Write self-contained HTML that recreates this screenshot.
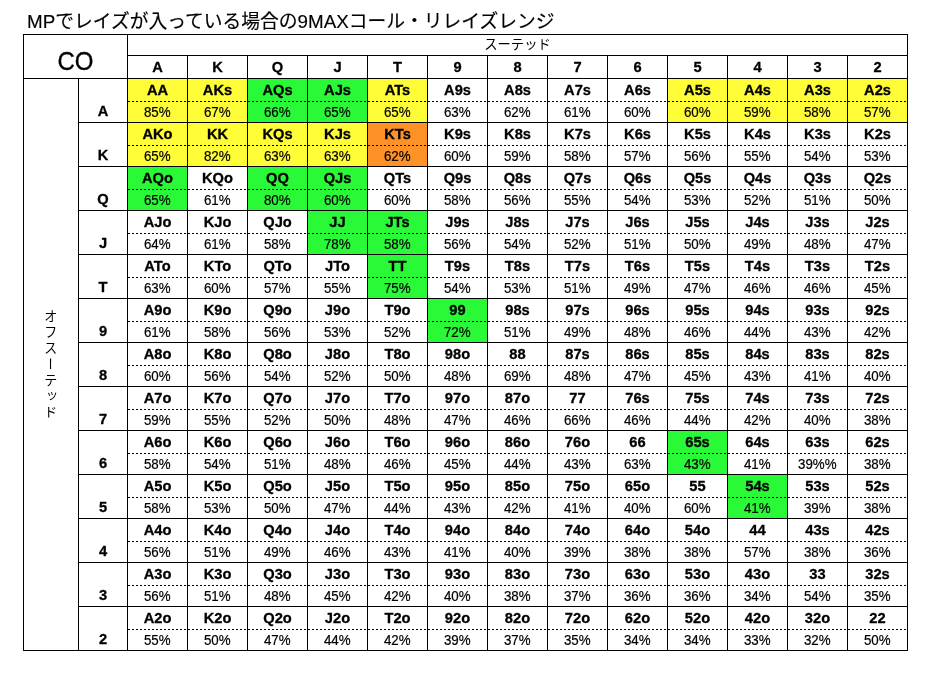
<!DOCTYPE html>
<html lang="ja"><head><meta charset="utf-8"><title>CO range</title>
<style>
html,body{margin:0;padding:0;background:#fff;}
body{width:932px;height:674px;position:relative;overflow:hidden;font-family:"Liberation Sans","Noto Sans CJK JP",sans-serif;color:#000;}
div{position:absolute;box-sizing:border-box;}
.t{left:27px;top:10px;font-size:18.78px;line-height:24px;white-space:nowrap;-webkit-text-stroke:0.15px #000;}
.v{background:#000;width:1px;}
.h{background:#000;height:1px;}
.d{height:1px;left:128px;width:779px;background:repeating-linear-gradient(90deg,#000 0,#000 2px,transparent 2px,transparent 4px);background-position:0px 0;}
.y{background:#fffc38;}.g{background:#29f937;}.o{background:#ff9226;}
.c{width:59px;text-align:center;font-size:13.333px;white-space:nowrap;}
.b{font-weight:bold;height:22px;line-height:22px;font-size:14.667px;-webkit-text-stroke:0.3px #000;}
.p{height:20px;line-height:20px;-webkit-text-stroke:0.2px #000;transform:translateX(-0.2px) scaleY(1.08);transform-origin:50% 15px;}
.f{width:59px;height:43px;}
.l{left:79px;width:48px;text-align:center;font-weight:bold;font-size:14.667px;height:20px;line-height:20px;-webkit-text-stroke:0.3px #000;}
.k{font-weight:bold;height:22px;line-height:22px;top:56px;font-size:14.667px;-webkit-text-stroke:0.3px #000;}
</style></head><body>
<div class="t">MPでレイズが入っている場合の9MAXコール・リレイズレンジ</div>
<div class="f y" style="left:128px;top:79px"></div><div class="f y" style="left:188px;top:79px"></div><div class="f g" style="left:248px;top:79px"></div><div class="f g" style="left:308px;top:79px"></div><div class="f y" style="left:368px;top:79px"></div><div class="f y" style="left:668px;top:79px"></div><div class="f y" style="left:728px;top:79px"></div><div class="f y" style="left:788px;top:79px"></div><div class="f y" style="left:848px;top:79px"></div><div class="f y" style="left:128px;top:123px"></div><div class="f y" style="left:188px;top:123px"></div><div class="f y" style="left:248px;top:123px"></div><div class="f y" style="left:308px;top:123px"></div><div class="f o" style="left:368px;top:123px"></div><div class="f g" style="left:128px;top:167px"></div><div class="f g" style="left:248px;top:167px"></div><div class="f g" style="left:308px;top:167px"></div><div class="f g" style="left:308px;top:211px"></div><div class="f g" style="left:368px;top:211px"></div><div class="f g" style="left:368px;top:255px"></div><div class="f g" style="left:428px;top:299px"></div><div class="f g" style="left:668px;top:431px"></div><div class="f g" style="left:728px;top:475px"></div>
<div class="v" style="left:23px;top:34px;height:617px"></div><div class="v" style="left:78px;top:78px;height:573px"></div><div class="v" style="left:127px;top:34px;height:617px"></div><div class="v" style="left:187px;top:55px;height:596px"></div><div class="v" style="left:247px;top:55px;height:596px"></div><div class="v" style="left:307px;top:55px;height:596px"></div><div class="v" style="left:367px;top:55px;height:596px"></div><div class="v" style="left:427px;top:55px;height:596px"></div><div class="v" style="left:487px;top:55px;height:596px"></div><div class="v" style="left:547px;top:55px;height:596px"></div><div class="v" style="left:607px;top:55px;height:596px"></div><div class="v" style="left:667px;top:55px;height:596px"></div><div class="v" style="left:727px;top:55px;height:596px"></div><div class="v" style="left:787px;top:55px;height:596px"></div><div class="v" style="left:847px;top:55px;height:596px"></div><div class="v" style="left:907px;top:34px;height:617px"></div>
<div class="h" style="left:23px;top:34px;width:885px"></div><div class="h" style="left:127px;top:55px;width:781px"></div><div class="h" style="left:23px;top:78px;width:885px"></div><div class="h" style="left:78px;top:122px;width:830px"></div><div class="h" style="left:78px;top:166px;width:830px"></div><div class="h" style="left:78px;top:210px;width:830px"></div><div class="h" style="left:78px;top:254px;width:830px"></div><div class="h" style="left:78px;top:298px;width:830px"></div><div class="h" style="left:78px;top:342px;width:830px"></div><div class="h" style="left:78px;top:386px;width:830px"></div><div class="h" style="left:78px;top:430px;width:830px"></div><div class="h" style="left:78px;top:474px;width:830px"></div><div class="h" style="left:78px;top:518px;width:830px"></div><div class="h" style="left:78px;top:562px;width:830px"></div><div class="h" style="left:78px;top:606px;width:830px"></div><div class="h" style="left:23px;top:650px;width:885px"></div>
<div class="d" style="top:101px"></div><div class="d" style="top:145px"></div><div class="d" style="top:189px"></div><div class="d" style="top:233px"></div><div class="d" style="top:277px"></div><div class="d" style="top:321px"></div><div class="d" style="top:365px"></div><div class="d" style="top:409px"></div><div class="d" style="top:453px"></div><div class="d" style="top:497px"></div><div class="d" style="top:541px"></div><div class="d" style="top:585px"></div><div class="d" style="top:629px"></div>
<div style="left:24px;top:40px;width:103px;height:43px;line-height:43px;text-align:center;font-size:24px;-webkit-text-stroke:0.3px #000;transform:scaleY(1.04)">CO</div><div style="left:128px;top:35px;width:779px;height:20px;line-height:20px;text-align:center;font-size:13.333px">スーテッド</div><div class="c k" style="left:128px">A</div><div class="c k" style="left:188px">K</div><div class="c k" style="left:248px">Q</div><div class="c k" style="left:308px">J</div><div class="c k" style="left:368px">T</div><div class="c k" style="left:428px">9</div><div class="c k" style="left:488px">8</div><div class="c k" style="left:548px">7</div><div class="c k" style="left:608px">6</div><div class="c k" style="left:668px">5</div><div class="c k" style="left:728px">4</div><div class="c k" style="left:788px">3</div><div class="c k" style="left:848px">2</div>
<div style="left:22.5px;top:79px;width:54px;height:571px;display:flex;align-items:center;justify-content:center;font-size:13.333px"><span style="writing-mode:vertical-rl;letter-spacing:2.667px;line-height:1;white-space:nowrap">オフスーテッド</span></div>
<div class="l" style="top:101px">A</div><div class="l" style="top:145px">K</div><div class="l" style="top:189px">Q</div><div class="l" style="top:233px">J</div><div class="l" style="top:277px">T</div><div class="l" style="top:321px">9</div><div class="l" style="top:365px">8</div><div class="l" style="top:409px">7</div><div class="l" style="top:453px">6</div><div class="l" style="top:497px">5</div><div class="l" style="top:541px">4</div><div class="l" style="top:585px">3</div><div class="l" style="top:629px">2</div>
<div class="c b" style="left:128px;top:79px">AA</div><div class="c p" style="left:128px;top:103px">85%</div><div class="c b" style="left:188px;top:79px">AKs</div><div class="c p" style="left:188px;top:103px">67%</div><div class="c b" style="left:248px;top:79px">AQs</div><div class="c p" style="left:248px;top:103px">66%</div><div class="c b" style="left:308px;top:79px">AJs</div><div class="c p" style="left:308px;top:103px">65%</div><div class="c b" style="left:368px;top:79px">ATs</div><div class="c p" style="left:368px;top:103px">65%</div><div class="c b" style="left:428px;top:79px">A9s</div><div class="c p" style="left:428px;top:103px">63%</div><div class="c b" style="left:488px;top:79px">A8s</div><div class="c p" style="left:488px;top:103px">62%</div><div class="c b" style="left:548px;top:79px">A7s</div><div class="c p" style="left:548px;top:103px">61%</div><div class="c b" style="left:608px;top:79px">A6s</div><div class="c p" style="left:608px;top:103px">60%</div><div class="c b" style="left:668px;top:79px">A5s</div><div class="c p" style="left:668px;top:103px">60%</div><div class="c b" style="left:728px;top:79px">A4s</div><div class="c p" style="left:728px;top:103px">59%</div><div class="c b" style="left:788px;top:79px">A3s</div><div class="c p" style="left:788px;top:103px">58%</div><div class="c b" style="left:848px;top:79px">A2s</div><div class="c p" style="left:848px;top:103px">57%</div>
<div class="c b" style="left:128px;top:123px">AKo</div><div class="c p" style="left:128px;top:147px">65%</div><div class="c b" style="left:188px;top:123px">KK</div><div class="c p" style="left:188px;top:147px">82%</div><div class="c b" style="left:248px;top:123px">KQs</div><div class="c p" style="left:248px;top:147px">63%</div><div class="c b" style="left:308px;top:123px">KJs</div><div class="c p" style="left:308px;top:147px">63%</div><div class="c b" style="left:368px;top:123px">KTs</div><div class="c p" style="left:368px;top:147px">62%</div><div class="c b" style="left:428px;top:123px">K9s</div><div class="c p" style="left:428px;top:147px">60%</div><div class="c b" style="left:488px;top:123px">K8s</div><div class="c p" style="left:488px;top:147px">59%</div><div class="c b" style="left:548px;top:123px">K7s</div><div class="c p" style="left:548px;top:147px">58%</div><div class="c b" style="left:608px;top:123px">K6s</div><div class="c p" style="left:608px;top:147px">57%</div><div class="c b" style="left:668px;top:123px">K5s</div><div class="c p" style="left:668px;top:147px">56%</div><div class="c b" style="left:728px;top:123px">K4s</div><div class="c p" style="left:728px;top:147px">55%</div><div class="c b" style="left:788px;top:123px">K3s</div><div class="c p" style="left:788px;top:147px">54%</div><div class="c b" style="left:848px;top:123px">K2s</div><div class="c p" style="left:848px;top:147px">53%</div>
<div class="c b" style="left:128px;top:167px">AQo</div><div class="c p" style="left:128px;top:191px">65%</div><div class="c b" style="left:188px;top:167px">KQo</div><div class="c p" style="left:188px;top:191px">61%</div><div class="c b" style="left:248px;top:167px">QQ</div><div class="c p" style="left:248px;top:191px">80%</div><div class="c b" style="left:308px;top:167px">QJs</div><div class="c p" style="left:308px;top:191px">60%</div><div class="c b" style="left:368px;top:167px">QTs</div><div class="c p" style="left:368px;top:191px">60%</div><div class="c b" style="left:428px;top:167px">Q9s</div><div class="c p" style="left:428px;top:191px">58%</div><div class="c b" style="left:488px;top:167px">Q8s</div><div class="c p" style="left:488px;top:191px">56%</div><div class="c b" style="left:548px;top:167px">Q7s</div><div class="c p" style="left:548px;top:191px">55%</div><div class="c b" style="left:608px;top:167px">Q6s</div><div class="c p" style="left:608px;top:191px">54%</div><div class="c b" style="left:668px;top:167px">Q5s</div><div class="c p" style="left:668px;top:191px">53%</div><div class="c b" style="left:728px;top:167px">Q4s</div><div class="c p" style="left:728px;top:191px">52%</div><div class="c b" style="left:788px;top:167px">Q3s</div><div class="c p" style="left:788px;top:191px">51%</div><div class="c b" style="left:848px;top:167px">Q2s</div><div class="c p" style="left:848px;top:191px">50%</div>
<div class="c b" style="left:128px;top:211px">AJo</div><div class="c p" style="left:128px;top:235px">64%</div><div class="c b" style="left:188px;top:211px">KJo</div><div class="c p" style="left:188px;top:235px">61%</div><div class="c b" style="left:248px;top:211px">QJo</div><div class="c p" style="left:248px;top:235px">58%</div><div class="c b" style="left:308px;top:211px">JJ</div><div class="c p" style="left:308px;top:235px">78%</div><div class="c b" style="left:368px;top:211px">JTs</div><div class="c p" style="left:368px;top:235px">58%</div><div class="c b" style="left:428px;top:211px">J9s</div><div class="c p" style="left:428px;top:235px">56%</div><div class="c b" style="left:488px;top:211px">J8s</div><div class="c p" style="left:488px;top:235px">54%</div><div class="c b" style="left:548px;top:211px">J7s</div><div class="c p" style="left:548px;top:235px">52%</div><div class="c b" style="left:608px;top:211px">J6s</div><div class="c p" style="left:608px;top:235px">51%</div><div class="c b" style="left:668px;top:211px">J5s</div><div class="c p" style="left:668px;top:235px">50%</div><div class="c b" style="left:728px;top:211px">J4s</div><div class="c p" style="left:728px;top:235px">49%</div><div class="c b" style="left:788px;top:211px">J3s</div><div class="c p" style="left:788px;top:235px">48%</div><div class="c b" style="left:848px;top:211px">J2s</div><div class="c p" style="left:848px;top:235px">47%</div>
<div class="c b" style="left:128px;top:255px">ATo</div><div class="c p" style="left:128px;top:279px">63%</div><div class="c b" style="left:188px;top:255px">KTo</div><div class="c p" style="left:188px;top:279px">60%</div><div class="c b" style="left:248px;top:255px">QTo</div><div class="c p" style="left:248px;top:279px">57%</div><div class="c b" style="left:308px;top:255px">JTo</div><div class="c p" style="left:308px;top:279px">55%</div><div class="c b" style="left:368px;top:255px">TT</div><div class="c p" style="left:368px;top:279px">75%</div><div class="c b" style="left:428px;top:255px">T9s</div><div class="c p" style="left:428px;top:279px">54%</div><div class="c b" style="left:488px;top:255px">T8s</div><div class="c p" style="left:488px;top:279px">53%</div><div class="c b" style="left:548px;top:255px">T7s</div><div class="c p" style="left:548px;top:279px">51%</div><div class="c b" style="left:608px;top:255px">T6s</div><div class="c p" style="left:608px;top:279px">49%</div><div class="c b" style="left:668px;top:255px">T5s</div><div class="c p" style="left:668px;top:279px">47%</div><div class="c b" style="left:728px;top:255px">T4s</div><div class="c p" style="left:728px;top:279px">46%</div><div class="c b" style="left:788px;top:255px">T3s</div><div class="c p" style="left:788px;top:279px">46%</div><div class="c b" style="left:848px;top:255px">T2s</div><div class="c p" style="left:848px;top:279px">45%</div>
<div class="c b" style="left:128px;top:299px">A9o</div><div class="c p" style="left:128px;top:323px">61%</div><div class="c b" style="left:188px;top:299px">K9o</div><div class="c p" style="left:188px;top:323px">58%</div><div class="c b" style="left:248px;top:299px">Q9o</div><div class="c p" style="left:248px;top:323px">56%</div><div class="c b" style="left:308px;top:299px">J9o</div><div class="c p" style="left:308px;top:323px">53%</div><div class="c b" style="left:368px;top:299px">T9o</div><div class="c p" style="left:368px;top:323px">52%</div><div class="c b" style="left:428px;top:299px">99</div><div class="c p" style="left:428px;top:323px">72%</div><div class="c b" style="left:488px;top:299px">98s</div><div class="c p" style="left:488px;top:323px">51%</div><div class="c b" style="left:548px;top:299px">97s</div><div class="c p" style="left:548px;top:323px">49%</div><div class="c b" style="left:608px;top:299px">96s</div><div class="c p" style="left:608px;top:323px">48%</div><div class="c b" style="left:668px;top:299px">95s</div><div class="c p" style="left:668px;top:323px">46%</div><div class="c b" style="left:728px;top:299px">94s</div><div class="c p" style="left:728px;top:323px">44%</div><div class="c b" style="left:788px;top:299px">93s</div><div class="c p" style="left:788px;top:323px">43%</div><div class="c b" style="left:848px;top:299px">92s</div><div class="c p" style="left:848px;top:323px">42%</div>
<div class="c b" style="left:128px;top:343px">A8o</div><div class="c p" style="left:128px;top:367px">60%</div><div class="c b" style="left:188px;top:343px">K8o</div><div class="c p" style="left:188px;top:367px">56%</div><div class="c b" style="left:248px;top:343px">Q8o</div><div class="c p" style="left:248px;top:367px">54%</div><div class="c b" style="left:308px;top:343px">J8o</div><div class="c p" style="left:308px;top:367px">52%</div><div class="c b" style="left:368px;top:343px">T8o</div><div class="c p" style="left:368px;top:367px">50%</div><div class="c b" style="left:428px;top:343px">98o</div><div class="c p" style="left:428px;top:367px">48%</div><div class="c b" style="left:488px;top:343px">88</div><div class="c p" style="left:488px;top:367px">69%</div><div class="c b" style="left:548px;top:343px">87s</div><div class="c p" style="left:548px;top:367px">48%</div><div class="c b" style="left:608px;top:343px">86s</div><div class="c p" style="left:608px;top:367px">47%</div><div class="c b" style="left:668px;top:343px">85s</div><div class="c p" style="left:668px;top:367px">45%</div><div class="c b" style="left:728px;top:343px">84s</div><div class="c p" style="left:728px;top:367px">43%</div><div class="c b" style="left:788px;top:343px">83s</div><div class="c p" style="left:788px;top:367px">41%</div><div class="c b" style="left:848px;top:343px">82s</div><div class="c p" style="left:848px;top:367px">40%</div>
<div class="c b" style="left:128px;top:387px">A7o</div><div class="c p" style="left:128px;top:411px">59%</div><div class="c b" style="left:188px;top:387px">K7o</div><div class="c p" style="left:188px;top:411px">55%</div><div class="c b" style="left:248px;top:387px">Q7o</div><div class="c p" style="left:248px;top:411px">52%</div><div class="c b" style="left:308px;top:387px">J7o</div><div class="c p" style="left:308px;top:411px">50%</div><div class="c b" style="left:368px;top:387px">T7o</div><div class="c p" style="left:368px;top:411px">48%</div><div class="c b" style="left:428px;top:387px">97o</div><div class="c p" style="left:428px;top:411px">47%</div><div class="c b" style="left:488px;top:387px">87o</div><div class="c p" style="left:488px;top:411px">46%</div><div class="c b" style="left:548px;top:387px">77</div><div class="c p" style="left:548px;top:411px">66%</div><div class="c b" style="left:608px;top:387px">76s</div><div class="c p" style="left:608px;top:411px">46%</div><div class="c b" style="left:668px;top:387px">75s</div><div class="c p" style="left:668px;top:411px">44%</div><div class="c b" style="left:728px;top:387px">74s</div><div class="c p" style="left:728px;top:411px">42%</div><div class="c b" style="left:788px;top:387px">73s</div><div class="c p" style="left:788px;top:411px">40%</div><div class="c b" style="left:848px;top:387px">72s</div><div class="c p" style="left:848px;top:411px">38%</div>
<div class="c b" style="left:128px;top:431px">A6o</div><div class="c p" style="left:128px;top:455px">58%</div><div class="c b" style="left:188px;top:431px">K6o</div><div class="c p" style="left:188px;top:455px">54%</div><div class="c b" style="left:248px;top:431px">Q6o</div><div class="c p" style="left:248px;top:455px">51%</div><div class="c b" style="left:308px;top:431px">J6o</div><div class="c p" style="left:308px;top:455px">48%</div><div class="c b" style="left:368px;top:431px">T6o</div><div class="c p" style="left:368px;top:455px">46%</div><div class="c b" style="left:428px;top:431px">96o</div><div class="c p" style="left:428px;top:455px">45%</div><div class="c b" style="left:488px;top:431px">86o</div><div class="c p" style="left:488px;top:455px">44%</div><div class="c b" style="left:548px;top:431px">76o</div><div class="c p" style="left:548px;top:455px">43%</div><div class="c b" style="left:608px;top:431px">66</div><div class="c p" style="left:608px;top:455px">63%</div><div class="c b" style="left:668px;top:431px">65s</div><div class="c p" style="left:668px;top:455px">43%</div><div class="c b" style="left:728px;top:431px">64s</div><div class="c p" style="left:728px;top:455px">41%</div><div class="c b" style="left:788px;top:431px">63s</div><div class="c p" style="left:788px;top:455px">39%%</div><div class="c b" style="left:848px;top:431px">62s</div><div class="c p" style="left:848px;top:455px">38%</div>
<div class="c b" style="left:128px;top:475px">A5o</div><div class="c p" style="left:128px;top:499px">58%</div><div class="c b" style="left:188px;top:475px">K5o</div><div class="c p" style="left:188px;top:499px">53%</div><div class="c b" style="left:248px;top:475px">Q5o</div><div class="c p" style="left:248px;top:499px">50%</div><div class="c b" style="left:308px;top:475px">J5o</div><div class="c p" style="left:308px;top:499px">47%</div><div class="c b" style="left:368px;top:475px">T5o</div><div class="c p" style="left:368px;top:499px">44%</div><div class="c b" style="left:428px;top:475px">95o</div><div class="c p" style="left:428px;top:499px">43%</div><div class="c b" style="left:488px;top:475px">85o</div><div class="c p" style="left:488px;top:499px">42%</div><div class="c b" style="left:548px;top:475px">75o</div><div class="c p" style="left:548px;top:499px">41%</div><div class="c b" style="left:608px;top:475px">65o</div><div class="c p" style="left:608px;top:499px">40%</div><div class="c b" style="left:668px;top:475px">55</div><div class="c p" style="left:668px;top:499px">60%</div><div class="c b" style="left:728px;top:475px">54s</div><div class="c p" style="left:728px;top:499px">41%</div><div class="c b" style="left:788px;top:475px">53s</div><div class="c p" style="left:788px;top:499px">39%</div><div class="c b" style="left:848px;top:475px">52s</div><div class="c p" style="left:848px;top:499px">38%</div>
<div class="c b" style="left:128px;top:519px">A4o</div><div class="c p" style="left:128px;top:543px">56%</div><div class="c b" style="left:188px;top:519px">K4o</div><div class="c p" style="left:188px;top:543px">51%</div><div class="c b" style="left:248px;top:519px">Q4o</div><div class="c p" style="left:248px;top:543px">49%</div><div class="c b" style="left:308px;top:519px">J4o</div><div class="c p" style="left:308px;top:543px">46%</div><div class="c b" style="left:368px;top:519px">T4o</div><div class="c p" style="left:368px;top:543px">43%</div><div class="c b" style="left:428px;top:519px">94o</div><div class="c p" style="left:428px;top:543px">41%</div><div class="c b" style="left:488px;top:519px">84o</div><div class="c p" style="left:488px;top:543px">40%</div><div class="c b" style="left:548px;top:519px">74o</div><div class="c p" style="left:548px;top:543px">39%</div><div class="c b" style="left:608px;top:519px">64o</div><div class="c p" style="left:608px;top:543px">38%</div><div class="c b" style="left:668px;top:519px">54o</div><div class="c p" style="left:668px;top:543px">38%</div><div class="c b" style="left:728px;top:519px">44</div><div class="c p" style="left:728px;top:543px">57%</div><div class="c b" style="left:788px;top:519px">43s</div><div class="c p" style="left:788px;top:543px">38%</div><div class="c b" style="left:848px;top:519px">42s</div><div class="c p" style="left:848px;top:543px">36%</div>
<div class="c b" style="left:128px;top:563px">A3o</div><div class="c p" style="left:128px;top:587px">56%</div><div class="c b" style="left:188px;top:563px">K3o</div><div class="c p" style="left:188px;top:587px">51%</div><div class="c b" style="left:248px;top:563px">Q3o</div><div class="c p" style="left:248px;top:587px">48%</div><div class="c b" style="left:308px;top:563px">J3o</div><div class="c p" style="left:308px;top:587px">45%</div><div class="c b" style="left:368px;top:563px">T3o</div><div class="c p" style="left:368px;top:587px">42%</div><div class="c b" style="left:428px;top:563px">93o</div><div class="c p" style="left:428px;top:587px">40%</div><div class="c b" style="left:488px;top:563px">83o</div><div class="c p" style="left:488px;top:587px">38%</div><div class="c b" style="left:548px;top:563px">73o</div><div class="c p" style="left:548px;top:587px">37%</div><div class="c b" style="left:608px;top:563px">63o</div><div class="c p" style="left:608px;top:587px">36%</div><div class="c b" style="left:668px;top:563px">53o</div><div class="c p" style="left:668px;top:587px">36%</div><div class="c b" style="left:728px;top:563px">43o</div><div class="c p" style="left:728px;top:587px">34%</div><div class="c b" style="left:788px;top:563px">33</div><div class="c p" style="left:788px;top:587px">54%</div><div class="c b" style="left:848px;top:563px">32s</div><div class="c p" style="left:848px;top:587px">35%</div>
<div class="c b" style="left:128px;top:607px">A2o</div><div class="c p" style="left:128px;top:631px">55%</div><div class="c b" style="left:188px;top:607px">K2o</div><div class="c p" style="left:188px;top:631px">50%</div><div class="c b" style="left:248px;top:607px">Q2o</div><div class="c p" style="left:248px;top:631px">47%</div><div class="c b" style="left:308px;top:607px">J2o</div><div class="c p" style="left:308px;top:631px">44%</div><div class="c b" style="left:368px;top:607px">T2o</div><div class="c p" style="left:368px;top:631px">42%</div><div class="c b" style="left:428px;top:607px">92o</div><div class="c p" style="left:428px;top:631px">39%</div><div class="c b" style="left:488px;top:607px">82o</div><div class="c p" style="left:488px;top:631px">37%</div><div class="c b" style="left:548px;top:607px">72o</div><div class="c p" style="left:548px;top:631px">35%</div><div class="c b" style="left:608px;top:607px">62o</div><div class="c p" style="left:608px;top:631px">34%</div><div class="c b" style="left:668px;top:607px">52o</div><div class="c p" style="left:668px;top:631px">34%</div><div class="c b" style="left:728px;top:607px">42o</div><div class="c p" style="left:728px;top:631px">33%</div><div class="c b" style="left:788px;top:607px">32o</div><div class="c p" style="left:788px;top:631px">32%</div><div class="c b" style="left:848px;top:607px">22</div><div class="c p" style="left:848px;top:631px">50%</div>
</body></html>
